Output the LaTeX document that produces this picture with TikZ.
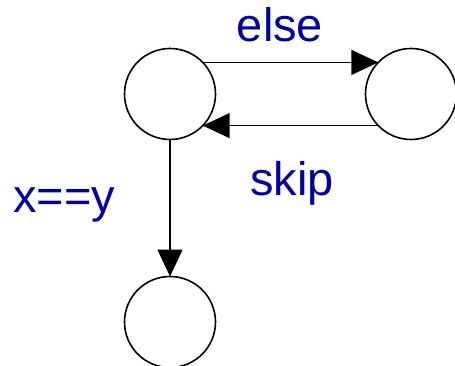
\documentclass[tikz,border=0pt]{standalone}
\usepackage{fontspec}
\setmainfont{Liberation Sans}
\usetikzlibrary{arrows.meta}
\definecolor{lbl}{RGB}{0,0,165}
\begin{document}
\begin{tikzpicture}[x=1pt,y=-1pt,
  state/.style={circle,draw=black,line width=1.6pt,minimum size=91pt,inner sep=0pt,outer sep=0pt},
  arr/.style={line width=1.5pt,-{Triangle[length=27pt,width=25pt]}},
  lab/.style={text=lbl,font=\fontsize{47}{47}\selectfont,anchor=base,inner sep=0pt}]
\useasboundingbox (0,0) rectangle (455,366);
\node[state] (A) at (170,94) {};
\node[state] (B) at (411,94) {};
\node[state] (C) at (170,322) {};
\draw[arr] (A.44) -- (B.136);
\draw[arr] (B.-136) -- (A.-44);
\draw[arr] (A.south) -- (C.north);
\node[lab] (else) at (280,42) {else};
\node[lab] (skip) at (292,196) {skip};
\node[lab] (xy) at (64,212) {x==y};
\end{tikzpicture}
\end{document}
